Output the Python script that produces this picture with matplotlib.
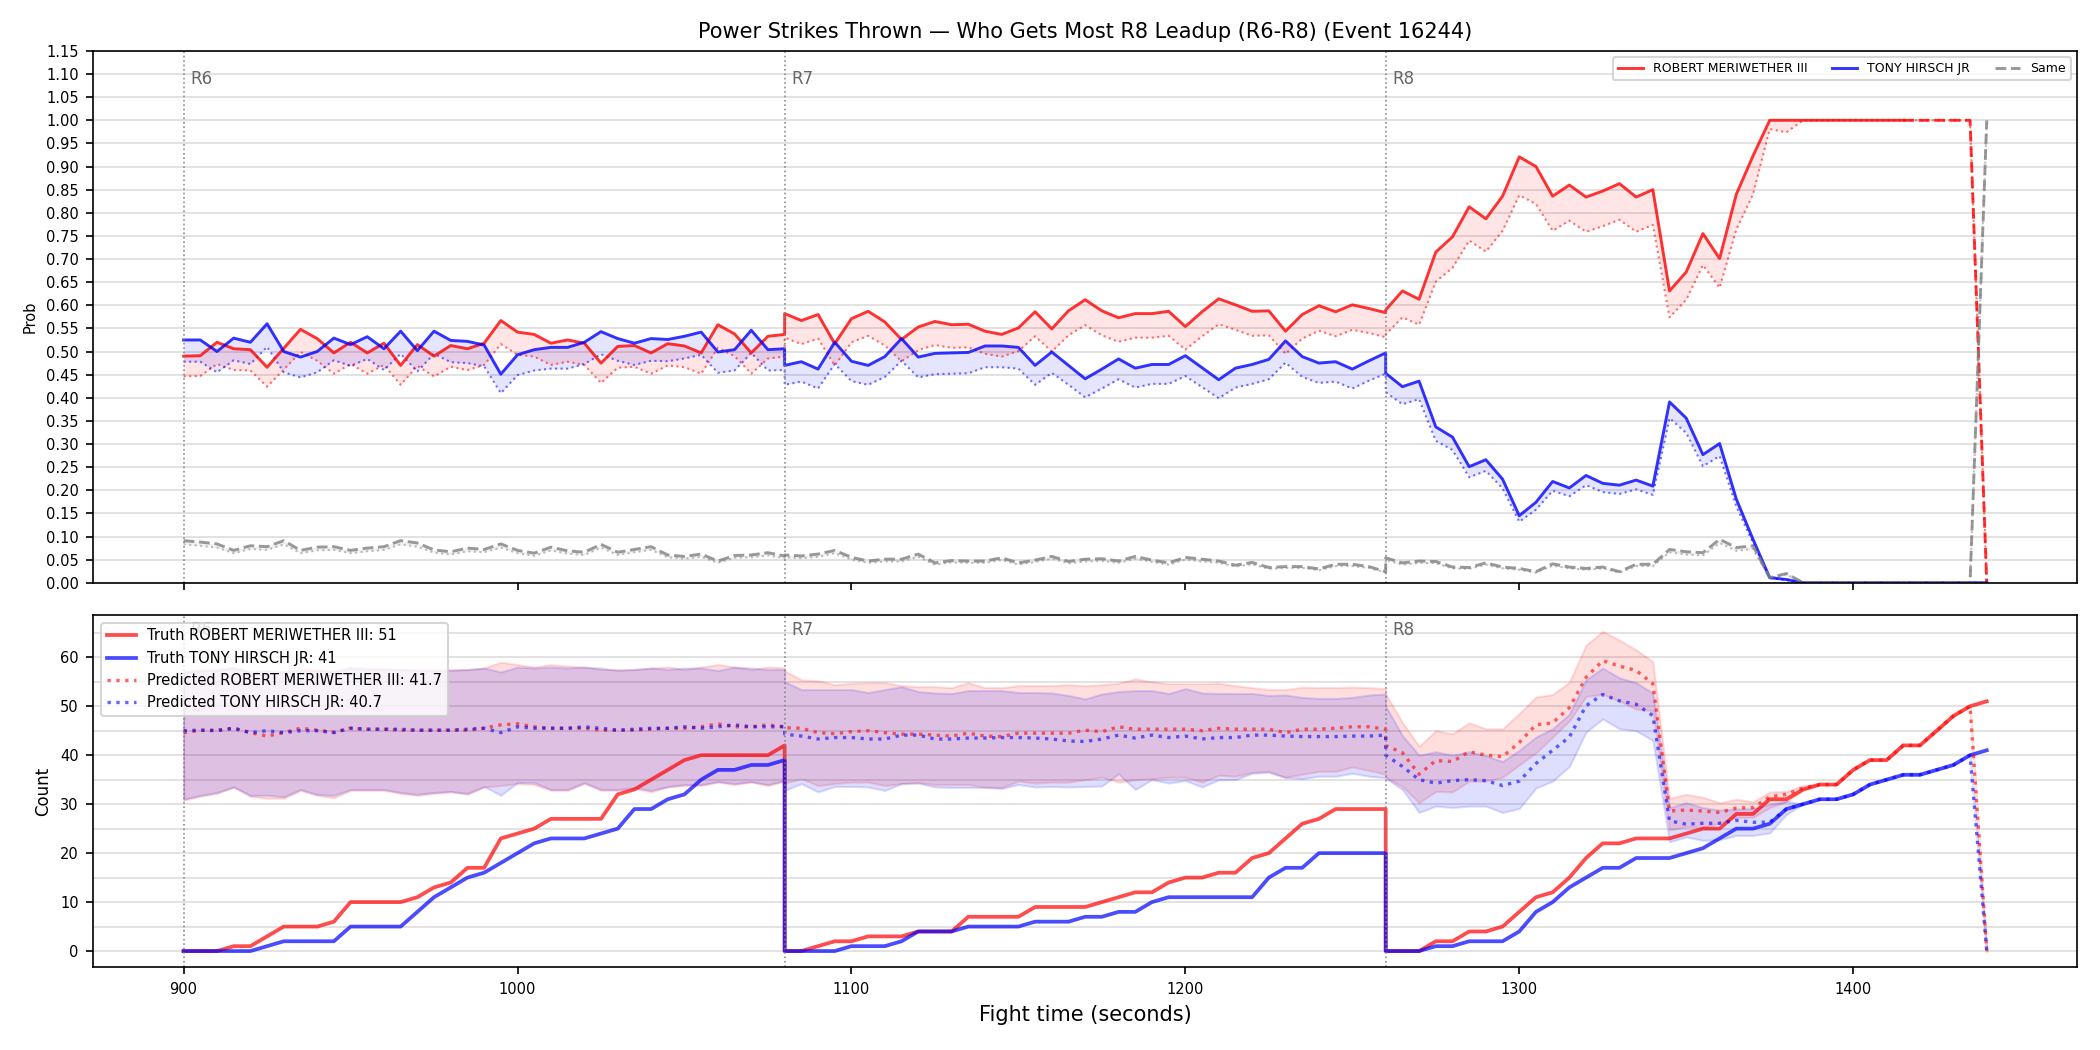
import numpy as np
import matplotlib
matplotlib.use("Agg")
import matplotlib.pyplot as plt
from matplotlib.ticker import MultipleLocator

red_name = "ROBERT MERIWETHER III"
blue_name = "TONY HIRSCH JR"
title = "Power Strikes Thrown \u2014 Who Gets Most R8 Leadup (R6-R8) (Event 16244)"
round_names = ["R6", "R7", "R8"]
round_starts = [900, 1080, 1260]
step = 5
n_per_round = 37
dash_from = 1415  # red win prob drawn dashed after this time
final_pred_red = 41.7
final_pred_blue = 40.7

# ---- top panel: win probabilities (solid) and lower line (dotted) ----
p_red_r6 = [0.490, 0.491, 0.520, 0.506, 0.504, 0.466, 0.507, 0.548, 0.528, 0.497, 0.520, 0.497, 0.518,
            0.470, 0.515, 0.490, 0.513, 0.506, 0.518, 0.567, 0.542, 0.537, 0.518, 0.525, 0.518, 0.475,
            0.511, 0.513, 0.497, 0.517, 0.512, 0.497, 0.558, 0.538, 0.497, 0.533, 0.537]
p_red_r7 = [0.582, 0.567, 0.580, 0.517, 0.571, 0.587, 0.564, 0.526, 0.553, 0.565, 0.558, 0.559, 0.544,
            0.537, 0.551, 0.586, 0.549, 0.588, 0.612, 0.588, 0.573, 0.582, 0.582, 0.587, 0.554, 0.586,
            0.614, 0.601, 0.587, 0.588, 0.544, 0.580, 0.599, 0.586, 0.601, 0.593, 0.584]
p_red_r8 = [0.590, 0.631, 0.613, 0.715, 0.748, 0.813, 0.787, 0.836, 0.921, 0.900, 0.836, 0.860, 0.834,
            0.847, 0.863, 0.834, 0.850, 0.631, 0.672, 0.755, 0.701, 0.840, 0.923, 1.0, 1.0, 1.0,
            1.0, 1.0, 1.0, 1.0, 1.0, 1.0, 1.0, 1.0, 1.0, 1.0, 0.0]
lo_red_r6 = [0.446, 0.447, 0.473, 0.460, 0.459, 0.424, 0.461, 0.499, 0.480, 0.452, 0.473, 0.452, 0.471,
             0.428, 0.469, 0.446, 0.467, 0.460, 0.471, 0.516, 0.493, 0.489, 0.471, 0.478, 0.471, 0.432,
             0.465, 0.467, 0.452, 0.470, 0.466, 0.452, 0.508, 0.490, 0.452, 0.485, 0.489]
lo_red_r7 = [0.530, 0.516, 0.528, 0.470, 0.520, 0.534, 0.513, 0.479, 0.503, 0.514, 0.508, 0.509, 0.495,
             0.489, 0.501, 0.533, 0.500, 0.535, 0.557, 0.535, 0.521, 0.530, 0.530, 0.534, 0.504, 0.533,
             0.559, 0.547, 0.534, 0.535, 0.495, 0.528, 0.545, 0.533, 0.547, 0.540, 0.531]
lo_red_r8 = [0.537, 0.574, 0.558, 0.651, 0.681, 0.740, 0.716, 0.761, 0.838, 0.819, 0.761, 0.783, 0.759,
             0.771, 0.785, 0.759, 0.774, 0.574, 0.612, 0.687, 0.638, 0.764, 0.840, 0.981, 0.974, 1.0,
             1.0, 1.0, 1.0, 1.0, 1.0, 1.0, 1.0, 1.0, 1.0, 1.0, 0.0]

p_blue_r6 = [0.525, 0.525, 0.500, 0.529, 0.520, 0.560, 0.500, 0.488, 0.500, 0.529, 0.515, 0.532, 0.506,
             0.544, 0.502, 0.544, 0.524, 0.522, 0.514, 0.451, 0.493, 0.504, 0.509, 0.509, 0.520, 0.543,
             0.528, 0.518, 0.528, 0.526, 0.533, 0.542, 0.499, 0.504, 0.546, 0.504, 0.506]
p_blue_r7 = [0.470, 0.478, 0.462, 0.520, 0.479, 0.470, 0.489, 0.528, 0.488, 0.496, 0.497, 0.498, 0.512,
             0.512, 0.509, 0.470, 0.499, 0.470, 0.441, 0.462, 0.484, 0.464, 0.472, 0.472, 0.491, 0.465,
             0.439, 0.464, 0.472, 0.483, 0.523, 0.489, 0.475, 0.478, 0.462, 0.480, 0.497]
p_blue_r8 = [0.453, 0.424, 0.436, 0.337, 0.315, 0.251, 0.266, 0.224, 0.145, 0.174, 0.219, 0.205, 0.232,
             0.215, 0.211, 0.222, 0.209, 0.391, 0.356, 0.277, 0.301, 0.181, 0.094, 0.011, 0.007, 0.0,
             0.0, 0.0, 0.0, 0.0, 0.0, 0.0, 0.0, 0.0, 0.0, 0.0, 0.0]
lo_blue_r6 = [0.478, 0.478, 0.455, 0.481, 0.473, 0.510, 0.455, 0.444, 0.455, 0.481, 0.469, 0.484, 0.460,
              0.495, 0.457, 0.495, 0.477, 0.475, 0.468, 0.410, 0.449, 0.459, 0.463, 0.463, 0.473, 0.494,
              0.480, 0.471, 0.480, 0.479, 0.485, 0.493, 0.454, 0.459, 0.497, 0.459, 0.460]
lo_blue_r7 = [0.428, 0.435, 0.420, 0.473, 0.436, 0.428, 0.445, 0.480, 0.444, 0.451, 0.452, 0.453, 0.466,
              0.466, 0.463, 0.428, 0.454, 0.428, 0.401, 0.420, 0.440, 0.422, 0.430, 0.430, 0.447, 0.423,
              0.399, 0.422, 0.430, 0.440, 0.476, 0.445, 0.432, 0.435, 0.420, 0.437, 0.452]
lo_blue_r8 = [0.412, 0.386, 0.397, 0.307, 0.287, 0.228, 0.242, 0.204, 0.132, 0.158, 0.199, 0.187, 0.211,
              0.196, 0.192, 0.202, 0.190, 0.356, 0.324, 0.252, 0.274, 0.165, 0.086, 0.010, 0.006, 0.0,
              0.0, 0.0, 0.0, 0.0, 0.0, 0.0, 0.0, 0.0, 0.0, 0.0, 0.0]

p_same_r6 = [0.091, 0.088, 0.084, 0.070, 0.080, 0.078, 0.091, 0.070, 0.077, 0.078, 0.070, 0.075, 0.078,
             0.091, 0.086, 0.071, 0.067, 0.075, 0.072, 0.084, 0.070, 0.064, 0.077, 0.069, 0.066, 0.083,
             0.066, 0.072, 0.078, 0.060, 0.057, 0.062, 0.047, 0.059, 0.060, 0.065, 0.058]
p_same_r7 = [0.060, 0.058, 0.062, 0.070, 0.055, 0.047, 0.051, 0.051, 0.062, 0.043, 0.048, 0.047, 0.047,
             0.054, 0.043, 0.049, 0.057, 0.046, 0.051, 0.052, 0.047, 0.057, 0.049, 0.043, 0.055, 0.051,
             0.047, 0.038, 0.044, 0.033, 0.035, 0.035, 0.030, 0.040, 0.040, 0.035, 0.024]
p_same_r8 = [0.054, 0.043, 0.047, 0.046, 0.034, 0.033, 0.043, 0.034, 0.031, 0.024, 0.041, 0.034, 0.031,
             0.034, 0.024, 0.040, 0.040, 0.072, 0.067, 0.065, 0.094, 0.076, 0.080, 0.011, 0.020, 0.0,
             0.0, 0.0, 0.0, 0.0, 0.0, 0.0, 0.0, 0.0, 0.0, 0.0, 1.0]
lo_same_r6 = [0.083, 0.080, 0.076, 0.064, 0.073, 0.071, 0.083, 0.064, 0.070, 0.071, 0.064, 0.068, 0.071,
              0.083, 0.078, 0.065, 0.061, 0.068, 0.066, 0.076, 0.064, 0.058, 0.070, 0.063, 0.060, 0.076,
              0.060, 0.066, 0.071, 0.055, 0.052, 0.056, 0.043, 0.054, 0.055, 0.059, 0.053]
lo_same_r7 = [0.055, 0.053, 0.056, 0.064, 0.050, 0.043, 0.046, 0.046, 0.056, 0.039, 0.044, 0.043, 0.043,
              0.049, 0.039, 0.045, 0.052, 0.042, 0.046, 0.047, 0.043, 0.052, 0.045, 0.039, 0.050, 0.046,
              0.043, 0.035, 0.040, 0.030, 0.032, 0.032, 0.027, 0.036, 0.036, 0.032, 0.022]
lo_same_r8 = [0.049, 0.039, 0.043, 0.042, 0.031, 0.030, 0.039, 0.031, 0.028, 0.022, 0.037, 0.031, 0.028,
              0.031, 0.022, 0.036, 0.036, 0.066, 0.061, 0.059, 0.086, 0.069, 0.073, 0.010, 0.018, 0.0,
              0.0, 0.0, 0.0, 0.0, 0.0, 0.0, 0.0, 0.0, 0.0, 0.0, 1.0]

# ---- bottom panel: cumulative counts per round ----
truth_red_r6 = [0, 0, 0, 1, 1, 3, 5, 5, 5, 6, 10, 10, 10, 10, 11, 13, 14, 17, 17, 23, 24, 25, 27, 27, 27,
                27, 32, 33, 35, 37, 39, 40, 40, 40, 40, 40, 42]
truth_red_r7 = [0, 0, 1, 2, 2, 3, 3, 3, 4, 4, 4, 7, 7, 7, 7, 9, 9, 9, 9, 10, 11, 12, 12, 14, 15, 15, 16,
                16, 19, 20, 23, 26, 27, 29, 29, 29, 29]
truth_red_r8 = [0, 0, 0, 2, 2, 4, 4, 5, 8, 11, 12, 15, 19, 22, 22, 23, 23, 23, 24, 25, 25, 28, 28, 31,
                31, 33, 34, 34, 37, 39, 39, 42, 42, 45, 48, 50, 51]
truth_blue_r6 = [0, 0, 0, 0, 0, 1, 2, 2, 2, 2, 5, 5, 5, 5, 8, 11, 13, 15, 16, 18, 20, 22, 23, 23, 23, 24,
                 25, 29, 29, 31, 32, 35, 37, 37, 38, 38, 39]
truth_blue_r7 = [0, 0, 0, 0, 1, 1, 1, 2, 4, 4, 4, 5, 5, 5, 5, 6, 6, 6, 7, 7, 8, 8, 10, 11, 11, 11, 11, 11,
                 11, 15, 17, 17, 20, 20, 20, 20, 20]
truth_blue_r8 = [0, 0, 0, 1, 1, 2, 2, 2, 4, 8, 10, 13, 15, 17, 17, 19, 19, 19, 20, 21, 23, 25, 25, 26, 29,
                 30, 31, 31, 32, 34, 35, 36, 36, 37, 38, 40, 41]

pred_red_r6 = [44.6, 45.1, 45.1, 45.5, 44.6, 43.9, 44.6, 45.5, 45.1, 44.7, 45.5, 45.3, 45.3, 45.1, 45.1,
               45.1, 45.1, 45.1, 45.5, 46.2, 46.4, 45.8, 45.5, 45.5, 45.5, 45.1, 45.1, 45.1, 45.3, 45.5,
               45.5, 45.8, 46.4, 45.8, 45.8, 46.2, 45.8]
pred_red_r7 = [45.6, 45.5, 44.6, 44.4, 44.8, 45.0, 44.6, 44.3, 44.3, 44.1, 43.9, 44.5, 43.9, 43.8, 44.5,
               44.5, 44.5, 44.5, 45.1, 44.8, 45.8, 45.3, 45.3, 45.3, 45.3, 45.0, 45.5, 45.3, 45.3, 45.3,
               44.6, 45.3, 45.3, 45.5, 45.8, 45.8, 45.3]
pred_red_r8 = [42.0, 40.5, 36.1, 38.9, 38.7, 40.7, 40.0, 39.7, 42.6, 46.2, 46.6, 49.7, 55.9, 59.3, 58.2,
               57.3, 54.6, 28.6, 28.8, 28.6, 28.3, 29.2, 29.3, 31.5, 32.0, 33.3, 34, 34, 37, 39, 39, 42,
               42, 45, 48, 50, 0]
pred_blue_r6 = [45.0, 45.1, 45.0, 45.5, 44.6, 45.0, 44.6, 45.0, 45.0, 44.6, 45.5, 45.3, 45.3, 45.3, 45.1,
                45.1, 45.1, 45.3, 45.5, 44.6, 45.8, 45.5, 45.5, 45.5, 45.8, 45.5, 45.1, 45.3, 45.5, 45.5,
                45.8, 45.5, 45.8, 46.2, 45.8, 45.8, 45.8]
pred_blue_r7 = [44.3, 43.9, 43.3, 43.6, 43.6, 43.3, 43.3, 44.1, 44.1, 43.3, 43.3, 43.5, 43.5, 43.6, 43.6,
                43.5, 43.3, 42.9, 42.8, 43.3, 44.1, 43.5, 44.1, 43.6, 43.9, 43.3, 43.6, 43.6, 44.1, 44.1,
                43.9, 43.8, 43.8, 43.8, 43.9, 43.9, 44.1]
pred_blue_r8 = [40.0, 37.7, 35.0, 34.3, 34.8, 35.0, 34.8, 33.8, 34.7, 38.3, 41.0, 43.7, 50.1, 52.4, 51.1,
                50.4, 48.1, 26.6, 25.9, 26.1, 26.1, 26.7, 26.3, 26.3, 29, 30, 31, 31, 32, 34, 35, 36, 36,
                37, 38, 40, 0]

red_hi_r6 = [57.0, 57.5, 57.5, 58.0, 57.0, 56.5, 57.0, 57.8, 57.5, 57.2, 58.0, 57.8, 57.8, 57.5, 57.5,
             57.5, 57.5, 57.5, 57.8, 59.0, 58.5, 58.0, 58.5, 58.2, 58.0, 57.5, 57.5, 57.5, 57.8, 58.0,
             57.5, 58.0, 58.5, 58.0, 57.5, 58.0, 57.8]
red_hi_r7 = [57.2, 55.4, 55.2, 54.4, 54.7, 54.8, 54.8, 54.2, 54.0, 54.0, 53.8, 54.8, 53.8, 53.8, 54.2,
             54.2, 54.2, 54.4, 54.2, 54.4, 54.7, 55.6, 55.0, 54.6, 54.6, 54.6, 54.7, 54.2, 53.8, 53.4,
             53.4, 53.9, 53.8, 53.8, 53.9, 53.8, 53.6]
red_hi_r8 = [52.5, 46.7, 41.8, 45.0, 44.4, 46.6, 45.4, 45.4, 48.5, 51.9, 52.4, 54.9, 62.5, 65.3, 63.5,
             61.5, 59.1, 31.2, 32.0, 31.4, 30.3, 31.0, 30.5, 32.5, 32.6, 33.8, 34, 34, 37, 39, 39, 42,
             42, 45, 48, 50, 0]
red_lo_r6 = [30.8, 31.6, 32.2, 33.5, 31.6, 31.2, 31.2, 32.8, 31.8, 31.3, 32.8, 32.8, 32.8, 32.2, 31.8,
             32.2, 32.5, 32.0, 33.5, 33.8, 34.2, 34.0, 32.8, 32.8, 34.2, 32.8, 32.8, 33.2, 32.5, 33.5,
             33.8, 33.8, 34.5, 34.0, 34.5, 33.8, 34.7]
red_lo_r7 = [34.3, 35.2, 33.8, 34.2, 34.5, 34.5, 33.8, 34.2, 34.4, 34.0, 34.0, 34.0, 33.5, 33.4, 34.7,
             34.3, 34.5, 34.5, 35.0, 35.5, 34.5, 35.0, 35.2, 35.5, 35.5, 34.5, 35.9, 35.7, 36.5, 36.7,
             35.5, 36.1, 36.7, 36.7, 37.6, 36.9, 36.1]
red_lo_r8 = [35.5, 33.6, 30.3, 32.6, 32.5, 34.7, 34.7, 35.5, 38.0, 40.5, 43.7, 47.0, 52.0, 52.4, 51.1,
             49.4, 49.1, 24.7, 25.4, 25.3, 26.1, 27.3, 27.3, 29.3, 30.5, 32.8, 34, 34, 37, 39, 39, 42,
             42, 45, 48, 50, 0]
blue_hi_r6 = [57.0, 57.3, 57.3, 57.8, 57.0, 57.3, 57.0, 57.3, 57.3, 57.0, 57.8, 57.5, 57.5, 57.5, 57.3,
              57.3, 57.3, 57.5, 57.8, 57.0, 58.0, 57.8, 58.0, 57.8, 58.0, 57.8, 57.3, 57.5, 57.8, 57.5,
              57.8, 57.8, 57.3, 58.0, 57.8, 57.5, 57.5]
blue_hi_r7 = [55.0, 53.4, 53.4, 53.4, 53.4, 52.8, 53.4, 54.0, 53.0, 52.7, 52.6, 53.2, 53.2, 53.2, 52.8,
              52.8, 52.7, 52.2, 51.5, 52.5, 53.0, 53.2, 53.2, 52.6, 53.6, 52.7, 52.6, 52.6, 52.6, 52.2,
              52.3, 51.8, 51.6, 51.6, 51.8, 52.3, 52.5]
blue_hi_r8 = [50.0, 44.0, 40.0, 40.7, 40.0, 40.7, 39.9, 38.7, 41.0, 43.7, 45.4, 48.4, 55.4, 57.8, 55.8,
              54.8, 52.7, 29.3, 30.3, 29.3, 28.8, 29.0, 29.1, 30.0, 30.6, 30, 31, 31, 32, 34, 35, 36,
              36, 37, 38, 40, 0]
blue_lo_r6 = [31.0, 31.8, 32.4, 33.5, 31.8, 31.8, 31.5, 33.0, 32.0, 31.8, 33.0, 33.0, 33.0, 32.4, 32.0,
              32.4, 32.6, 32.2, 33.6, 31.8, 34.4, 34.4, 33.0, 33.0, 34.4, 33.0, 33.0, 33.4, 32.8, 33.6,
              34.0, 34.0, 34.6, 34.2, 34.6, 34.0, 34.8]
blue_lo_r7 = [32.8, 34.2, 32.5, 33.6, 33.6, 33.5, 32.8, 34.2, 34.3, 33.5, 33.4, 33.4, 33.4, 33.2, 34.0,
              33.5, 33.6, 33.5, 33.6, 33.7, 36.2, 33.0, 35.0, 34.3, 34.8, 33.5, 35.0, 35.0, 36.3, 36.5,
              35.4, 35.2, 35.7, 35.7, 36.3, 35.7, 35.4]
blue_lo_r8 = [35.3, 33.0, 28.3, 29.6, 29.3, 29.6, 29.6, 28.3, 29.1, 33.3, 34.7, 37.7, 44.7, 47.4, 45.4,
              45.0, 43.0, 22.3, 23.3, 22.6, 22.7, 23.6, 23.6, 24.1, 27.9, 30, 31, 31, 32, 34, 35, 36,
              36, 37, 38, 40, 0]


def cat(*parts):
    return np.concatenate([np.asarray(p, dtype=float) for p in parts])


# time axis: each round sampled every 5 s, rounds joined end to start
t = np.concatenate([s + step * np.arange(n_per_round) for s in round_starts])

p_red = cat(p_red_r6, p_red_r7, p_red_r8)
lo_red = cat(lo_red_r6, lo_red_r7, lo_red_r8)
p_blue = cat(p_blue_r6, p_blue_r7, p_blue_r8)
lo_blue = cat(lo_blue_r6, lo_blue_r7, lo_blue_r8)
p_same = cat(p_same_r6, p_same_r7, p_same_r8)
lo_same = cat(lo_same_r6, lo_same_r7, lo_same_r8)

truth_red = cat(truth_red_r6, truth_red_r7, truth_red_r8)
truth_blue = cat(truth_blue_r6, truth_blue_r7, truth_blue_r8)
pred_red = cat(pred_red_r6, pred_red_r7, pred_red_r8)
pred_blue = cat(pred_blue_r6, pred_blue_r7, pred_blue_r8)
red_hi = cat(red_hi_r6, red_hi_r7, red_hi_r8)
red_lo = cat(red_lo_r6, red_lo_r7, red_lo_r8)
blue_hi = cat(blue_hi_r6, blue_hi_r7, blue_hi_r8)
blue_lo = cat(blue_lo_r6, blue_lo_r7, blue_lo_r8)

RED = "#ff0000"
BLUE = "#0000ff"
GRAY = "gray"

fig = plt.figure(figsize=(14, 7), dpi=150)
ax1 = fig.add_axes([0.0445, 0.445, 0.9445, 0.5065])
ax2 = fig.add_axes([0.0445, 0.079, 0.9445, 0.335], sharex=ax1)

# ---- top: probabilities ----
cut = np.where(t >= dash_from)[0][0]
ax1.fill_between(t, lo_red, p_red, color=RED, alpha=0.1, lw=0)
ax1.fill_between(t, lo_blue, p_blue, color=BLUE, alpha=0.1, lw=0)
ax1.fill_between(t, lo_same, p_same, color=GRAY, alpha=0.1, lw=0)
ax1.plot(t, lo_red, color=RED, ls=":", lw=1, alpha=0.55)
ax1.plot(t, lo_blue, color=BLUE, ls=":", lw=1, alpha=0.55)
ax1.plot(t, lo_same, color=GRAY, ls=":", lw=1, alpha=0.5)
ax1.plot(t[:cut + 1], p_red[:cut + 1], color=RED, lw=1.4, alpha=0.8, label=red_name)
ax1.plot(t[cut:], p_red[cut:], color=RED, lw=1.4, alpha=0.8, ls="--")
ax1.plot(t, p_blue, color=BLUE, lw=1.4, alpha=0.8, label=blue_name)
ax1.plot(t, p_same, color=GRAY, lw=1.4, alpha=0.8, ls="--", label="Same")

ax1.set_ylim(0, 1.15)
ax1.yaxis.set_major_locator(MultipleLocator(0.05))
ax1.grid(axis="y", color="#dddddd", lw=0.8)
ax1.set_axisbelow(True)
ax1.set_ylabel("Prob", fontsize=7)
ax1.tick_params(axis="y", labelsize=7)
ax1.tick_params(axis="x", labelbottom=False)
ax1.set_title(title, fontsize=10)
ax1.legend(loc="upper right", ncol=3, fontsize=6)

for name, s in zip(round_names, round_starts):
    ax1.axvline(s, color=GRAY, ls=":", lw=0.8, alpha=0.9)
    ax1.text(s + 2, 1.09, name, color="#666666", fontsize=8, va="center", ha="left")

# ---- bottom: counts ----
ax2.fill_between(t, red_lo, red_hi, color=RED, alpha=0.13, lw=1)
ax2.fill_between(t, blue_lo, blue_hi, color=BLUE, alpha=0.13, lw=1)
ax2.plot(t, truth_red, color=RED, lw=1.8, alpha=0.7,
         label=f"Truth {red_name}: {truth_red[-1]:.0f}")
ax2.plot(t, truth_blue, color=BLUE, lw=1.8, alpha=0.7,
         label=f"Truth {blue_name}: {truth_blue[-1]:.0f}")
ax2.plot(t, pred_red, color=RED, lw=1.6, alpha=0.6, ls=":",
         label=f"Predicted {red_name}: {final_pred_red}")
ax2.plot(t, pred_blue, color=BLUE, lw=1.6, alpha=0.6, ls=":",
         label=f"Predicted {blue_name}: {final_pred_blue}")

for name, s in zip(round_names, round_starts):
    ax2.axvline(s, color=GRAY, ls=":", lw=0.8, alpha=0.9)
    ax2.text(s + 2, 65.5, name, color="#666666", fontsize=8, va="center", ha="left")

ax2.yaxis.set_major_locator(MultipleLocator(10))
ax2.yaxis.set_minor_locator(MultipleLocator(5))
ax2.grid(axis="y", which="both", color="#dddddd", lw=0.8)
ax2.tick_params(axis="y", which="minor", length=0)
ax2.set_axisbelow(True)
ax2.tick_params(labelsize=7)
ax2.set_ylabel("Count", fontsize=8)
ax2.set_xlabel("Fight time (seconds)", fontsize=10)
ax2.legend(loc="upper left", fontsize=7)

fig.savefig("out.png", dpi=150)
